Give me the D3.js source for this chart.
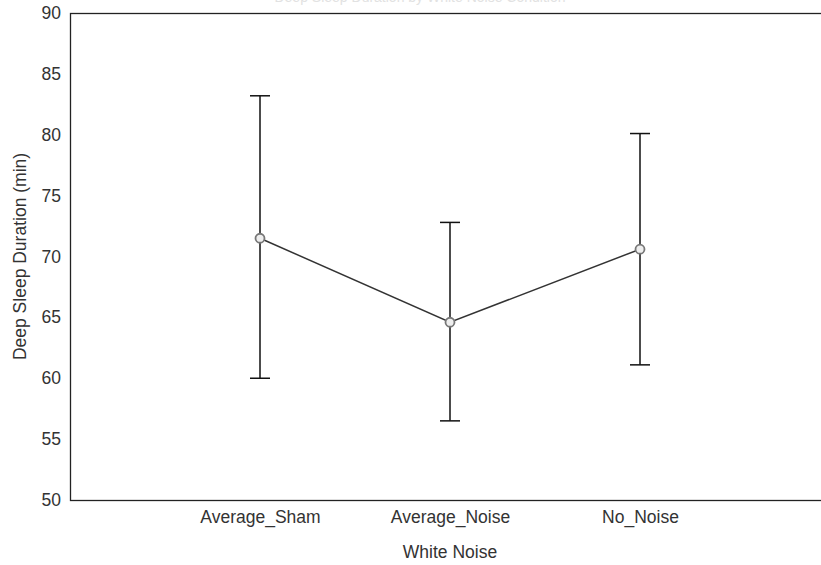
<!DOCTYPE html>
<html>
<head>
<meta charset="utf-8">
<script src="https://cdn.jsdelivr.net/npm/d3@7"></script>
<style>
  body { margin: 0; background: #fff; }
  text { font-family: "Liberation Sans", Arial, sans-serif; }
</style>
</head>
<body>
<div id="chart"></div>
<script>
// values
var groups = ['Average_Sham', 'Average_Noise', 'No_Noise'];
var means = [71.5, 64.6, 70.6];
var upper = [83.2, 72.8, 80.1];
var lower = [60.0, 56.5, 61.1];
var yTicks = [50, 55, 60, 65, 70, 75, 80, 85, 90];

var svgWidth = 821;
var svgHeight = 565;
var margin = { top: 13, right: -9, bottom: 65, left: 70 }; // box runs off the right edge
var chartWidth = svgWidth - margin.left - margin.right;
var chartHeight = svgHeight - margin.top - margin.bottom;
var fontSize = '17.5px';

var rows = groups.map((g, i) => ({ group: g, mean: means[i], hi: upper[i], lo: lower[i] }));

var xScale = d3.scalePoint().domain(groups).range([0, chartWidth]).padding(1);
var yScale = d3.scaleLinear().domain([50, 90]).range([chartHeight, 0]);

var svg = d3.select('#chart').append('svg')
    .attr('width', svgWidth)
    .attr('height', svgHeight);

// title is cut off at the top in the original, only a faint sliver shows
svg.append('text')
    .attr('x', 420)
    .attr('y', 2)
    .attr('text-anchor', 'middle')
    .style('font-size', '14px')
    .attr('fill', '#e2e2e2')
    .text('Deep Sleep Duration by White Noise Condition');

var g = svg.append('g')
    .attr('transform', `translate(${margin.left}, ${margin.top})`);

// frame
g.append('rect')
    .attr('x', 0.5).attr('y', 0.5)
    .attr('width', chartWidth).attr('height', chartHeight)
    .attr('fill', 'none')
    .attr('stroke', '#222')
    .attr('stroke-width', 1.3);

var yAxis = d3.axisLeft(yScale).tickValues(yTicks).tickSize(0).tickPadding(9);
var yAxisG = g.append('g').call(yAxis);
yAxisG.select('.domain').remove();
yAxisG.selectAll('text').style('font-size', fontSize).attr('fill', '#333');

var xAxis = d3.axisBottom(xScale).tickSize(0).tickPadding(11);
var xAxisG = g.append('g').attr('transform', `translate(0, ${chartHeight})`).call(xAxis);
xAxisG.select('.domain').remove();
xAxisG.selectAll('text').style('font-size', fontSize).attr('fill', '#333');

// axis titles
g.append('text')
    .attr('transform', `translate(${-44}, ${chartHeight / 2}) rotate(-90)`)
    .attr('text-anchor', 'middle')
    .style('font-size', fontSize)
    .attr('fill', '#333')
    .text('Deep Sleep Duration (min)');

g.append('text')
    .attr('x', xScale('Average_Noise'))
    .attr('y', chartHeight + 58)
    .attr('text-anchor', 'middle')
    .style('font-size', fontSize)
    .attr('fill', '#333')
    .text('White Noise');

// error bars
var capHalf = 10;
var bars = g.selectAll('.err').data(rows).enter().append('g').attr('class', 'err');
bars.append('line')
    .attr('x1', d => xScale(d.group)).attr('x2', d => xScale(d.group))
    .attr('y1', d => yScale(d.hi)).attr('y2', d => yScale(d.lo))
    .attr('stroke', '#111').attr('stroke-width', 1.5);
bars.append('line')
    .attr('x1', d => xScale(d.group) - capHalf).attr('x2', d => xScale(d.group) + capHalf)
    .attr('y1', d => yScale(d.hi)).attr('y2', d => yScale(d.hi))
    .attr('stroke', '#111').attr('stroke-width', 1.5);
bars.append('line')
    .attr('x1', d => xScale(d.group) - capHalf).attr('x2', d => xScale(d.group) + capHalf)
    .attr('y1', d => yScale(d.lo)).attr('y2', d => yScale(d.lo))
    .attr('stroke', '#111').attr('stroke-width', 1.5);

// mean line
var line = d3.line().x(d => xScale(d.group)).y(d => yScale(d.mean));
g.append('path')
    .datum(rows)
    .attr('d', line)
    .attr('fill', 'none')
    .attr('stroke', '#333')
    .attr('stroke-width', 1.5);

g.selectAll('.pt').data(rows).enter().append('circle')
    .attr('class', 'pt')
    .attr('cx', d => xScale(d.group))
    .attr('cy', d => yScale(d.mean))
    .attr('r', 4.5)
    .attr('fill', '#eee')
    .attr('stroke', '#777')
    .attr('stroke-width', 1.8);
</script>
</body>
</html>
